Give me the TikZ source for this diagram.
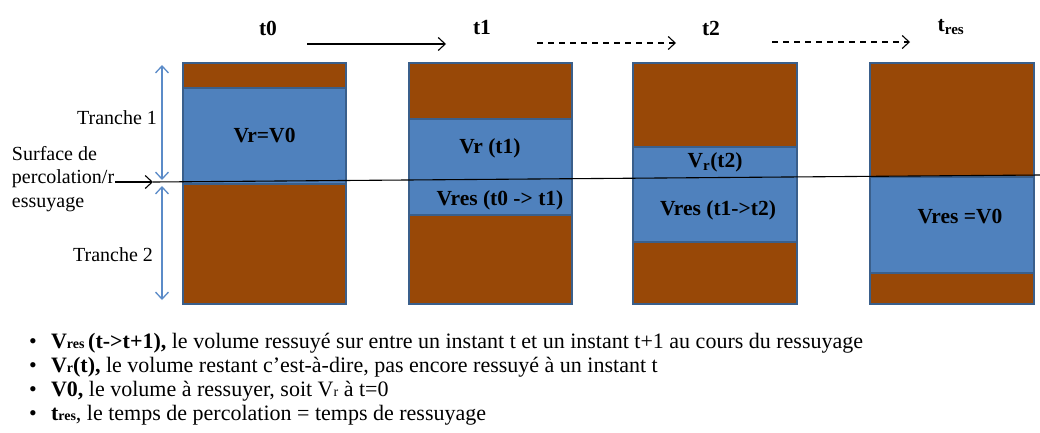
\documentclass[tikz,border=0pt]{standalone}
\usepackage{fontspec}
\setmainfont{Liberation Serif}
\usetikzlibrary{arrows.meta}
\definecolor{water}{HTML}{4F81BD}
\definecolor{soil}{HTML}{984807}
\definecolor{outl}{HTML}{3A5F8B}
\definecolor{dimblue}{HTML}{5B8BC8}
\newcommand\smtxt[1]{{\fontsize{14}{14}\selectfont #1}}
\begin{document}
\begin{tikzpicture}[x=1pt,y=-1pt,
  every node/.style={font=\fontsize{20}{23.5}\selectfont, inner sep=0pt, outer sep=0pt},
  layer/.style={draw=outl, line width=2.5pt, anchor=north west, minimum width=#1},
  soil/.style={layer=#1, fill=soil},
  water/.style={layer=#1, fill=water, font=\fontsize{21.5}{24}\selectfont\bfseries},
  lbl/.style={font=\fontsize{21.5}{24}\selectfont\bfseries},
  tarrow/.style={-{Straight Barb[length=7pt,width=13pt]}, line width=1.1pt},
  dimarrow/.style={{Straight Barb[length=7pt,width=13pt]}-{Straight Barb[length=7pt,width=13pt]}, draw=dimblue, line width=1.3pt},
  bul/.style={anchor=base west, font=\fontsize{22}{24}\selectfont}
]
\useasboundingbox (0,0) rectangle (1040,432);
% box 1
\node[soil=163pt, minimum height=25pt] (b1s1) at (183,63) {};
\node[water=163pt, minimum height=96pt] (b1w) at (183,88) {Vr=V0};
\node[soil=163pt, minimum height=120pt] (b1s2) at (183,184) {};
% box 2
\node[soil=163pt, minimum height=56pt] (b2s1) at (409,63) {};
\node[water=163pt, minimum height=96pt] (b2w) at (409,119) {};
\node[soil=163pt, minimum height=89pt] (b2s2) at (409,215) {};
\node[lbl] (b2l1) at (490,148) {Vr (t1)};
\node[lbl] (b2l2) at (500,200) {Vres (t0 -> t1)};
% box 3
\node[soil=164pt, minimum height=84pt] (b3s1) at (633,63) {};
\node[water=164pt, minimum height=95pt] (b3w) at (633,147) {};
\node[soil=164pt, minimum height=62pt] (b3s2) at (633,242) {};
\node[lbl] (b3l1) at (715,162) {V\textsubscript{r}(t2)};
\node[lbl] (b3l2) at (718,210) {Vres (t1->t2)};
% box 4
\node[soil=164pt, minimum height=114pt] (b4s1) at (870,63) {};
\node[water=164pt, minimum height=96pt] (b4w) at (870,177) {};
\node[soil=164pt, minimum height=31pt] (b4s2) at (870,273) {};
\node[lbl] (b4l1) at (960,217) {Vres =V0};
% time titles
\node[lbl] (t0) at (268,28) {t0};
\node[lbl] (t1) at (482,28) {t1};
\node[lbl] (t2) at (711,28) {t2};
\node[lbl] (tres) at (951,27) {t\textsubscript{res}};
\coordinate (a1s) at (307,44); \coordinate (a1e) at (446,44);
\coordinate (a2s) at (537,43); \coordinate (a2e) at (676,43);
\coordinate (a3s) at (772,42); \coordinate (a3e) at (910,42);
\draw[tarrow] (a1s) -- (a1e);
\draw[tarrow, dash pattern=on 6pt off 5pt] (a2s) -- (a2e);
\draw[tarrow, dash pattern=on 6pt off 5pt] (a3s) -- (a3e);
% left labels
\node (tr1) at (117,118) {Tranche 1};
\node (tr2) at (113,255) {Tranche 2};
\node[anchor=north west, align=left] (surf) at (12,146) {Surface de\\percolation/r\\essuyage};
\coordinate (d1t) at (162,65); \coordinate (d1b) at (162,180);
\coordinate (d2t) at (162,186); \coordinate (d2b) at (162,300);
\draw[dimarrow] (d1t) -- (d1b);
\draw[dimarrow] (d2t) -- (d2b);
% percolation line
\coordinate (ps) at (115,182); \coordinate (pc) at (153,182); \coordinate (pe) at (1040,175);
\draw[tarrow] (ps) -- (pc);
\draw[line width=1.1pt] (pc) -- (pe);
% bullets
\foreach \yy/\nm in {348/bA,372/bB,396/bC,420/bD} \node[bul] (\nm) at (29,\yy) {•};
\node[bul] (l1) at (51,348) {{\bfseries V\smtxt{res}\,(t->t+1),} le volume ressuyé sur entre un instant t et un instant t+1 au cours du ressuyage};
\node[bul] (l2) at (51,372) {{\bfseries V\smtxt{r}(t),} le volume restant c’est-à-dire, pas encore ressuyé à un instant t};
\node[bul] (l3) at (51,396) {{\bfseries V0,} le volume à ressuyer, soit V\smtxt{r} à t=0};
\node[bul] (l4) at (51,420) {{\bfseries t\smtxt{res}}, le temps de percolation = temps de ressuyage};
\end{tikzpicture}
\end{document}
